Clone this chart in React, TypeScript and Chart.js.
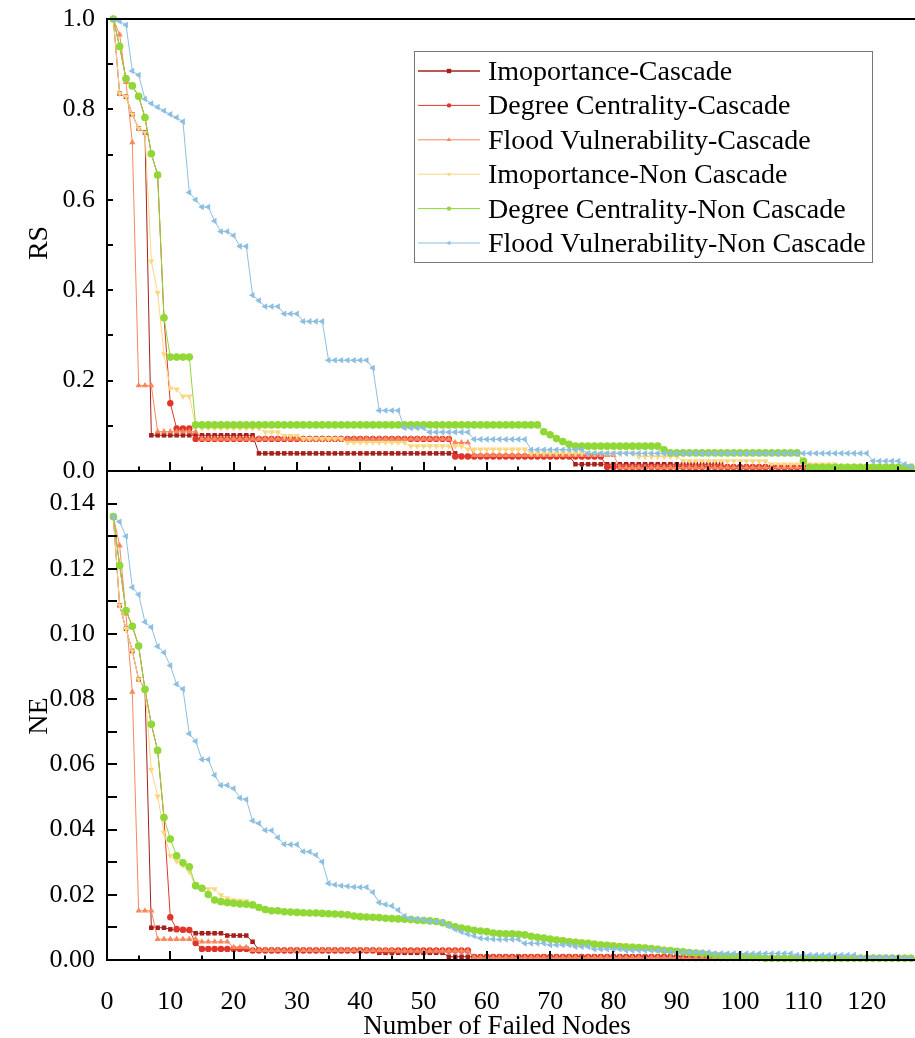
import React, { useEffect, useRef } from 'react';
import { Chart, registerables } from 'chart.js';

Chart.register(...registerables);

const FONT = "'Liberation Serif', 'Times New Roman', serif";

// x values: number of failed nodes
const NODES: number[] = Array.from({ length: 127 }, (_, i) => i + 1);

const X_TICKS = [0, 10, 20, 30, 40, 50, 60, 70, 80, 90, 100, 110, 120];
const X_MINOR = [5, 15, 25, 35, 45, 55, 65, 75, 85, 95, 105, 115, 125];
const RS_TICKS = [0, 0.2, 0.4, 0.6, 0.8, 1.0];
const RS_MINOR = [0.1, 0.3, 0.5, 0.7, 0.9];
const NE_TICKS = [0, 0.02, 0.04, 0.06, 0.08, 0.1, 0.12, 0.14];
const NE_MINOR = [0.01, 0.03, 0.05, 0.07, 0.09, 0.11, 0.13];

const SERIES_NAMES = [
  'Imoportance-Cascade',
  'Degree Centrality-Cascade',
  'Flood Vulnerability-Cascade',
  'Imoportance-Non Cascade',
  'Degree Centrality-Non Cascade',
  'Flood Vulnerability-Non Cascade',
];

// ---------------- RS (top panel) ----------------
const impC_RS = [
  1.0, 0.835, 0.828, 0.789, 0.758, 0.749,
  0.079, 0.079, 0.079, 0.079, 0.079, 0.079, 0.079, 0.079, 0.079, 0.079, 0.079, 0.079, 0.079, 0.079, 0.079, 0.079, 0.079,
  0.039, 0.039, 0.039, 0.039, 0.039, 0.039, 0.039, 0.039, 0.039, 0.039, 0.039, 0.039, 0.039, 0.039, 0.039, 0.039,
  0.039, 0.039, 0.039, 0.039, 0.039, 0.039, 0.039, 0.039, 0.039, 0.039, 0.039, 0.039, 0.039, 0.039, 0.039, 0.039,
  0.033, 0.033, 0.033, 0.033, 0.033, 0.033, 0.033, 0.033, 0.033, 0.033, 0.033, 0.033, 0.033, 0.033, 0.033, 0.033, 0.033, 0.033,
  0.015, 0.015, 0.015, 0.015, 0.015, 0.015, 0.015, 0.015, 0.015, 0.015, 0.015, 0.015,
  0.015, 0.015, 0.015, 0.015, 0.015, 0.015, 0.015, 0.015, 0.015, 0.015, 0.015, 0.015,
  0.006, 0.006, 0.006, 0.006, 0.006, 0.006, 0.006, 0.006, 0.006, 0.006, 0.006, 0.006, 0.006, 0.006, 0.006,
  0.006, 0.006, 0.006, 0.006, 0.006, 0.006, 0.006, 0.006, 0.006, 0.006, 0.006, 0.006, 0.006, 0.006, 0.004,
];

const degC_RS = [
  1.0, 0.939, 0.868, 0.852, 0.829, 0.782, 0.702, 0.655, 0.339, 0.15,
  0.094, 0.094, 0.094,
  0.071, 0.071, 0.071, 0.071, 0.071, 0.071, 0.071, 0.071, 0.071, 0.071, 0.071, 0.071, 0.071, 0.071,
  0.071, 0.071, 0.071, 0.071, 0.071, 0.071, 0.071, 0.071, 0.071, 0.071, 0.071, 0.071, 0.071, 0.071,
  0.071, 0.071, 0.071, 0.071, 0.071, 0.071, 0.071, 0.071, 0.071, 0.071, 0.071, 0.071, 0.071,
  0.032, 0.032, 0.032, 0.032, 0.032, 0.032, 0.032, 0.032, 0.032, 0.032, 0.032, 0.032,
  0.032, 0.032, 0.032, 0.032, 0.032, 0.032, 0.032, 0.032, 0.032, 0.032, 0.032, 0.032,
  0.009, 0.009, 0.009, 0.009, 0.009, 0.009, 0.009, 0.009, 0.009, 0.009, 0.009, 0.009, 0.009, 0.009, 0.009, 0.009,
  0.009, 0.009, 0.009, 0.009, 0.009, 0.009, 0.009, 0.009, 0.009, 0.009, 0.009, 0.009, 0.009, 0.009, 0.009, 0.009,
  0.009, 0.009, 0.009, 0.009, 0.009, 0.009, 0.009, 0.009, 0.009, 0.009, 0.009, 0.009, 0.009, 0.009, 0.009, 0.009, 0.006,
];

const floodC_RS = [
  1.0, 0.965, 0.86, 0.727,
  0.189, 0.189, 0.189,
  0.087, 0.087, 0.087, 0.087, 0.087, 0.087, 0.087,
  0.071, 0.071, 0.071, 0.071, 0.071, 0.071, 0.071, 0.071, 0.071, 0.071, 0.071, 0.071, 0.071, 0.071,
  0.071, 0.071, 0.071, 0.071, 0.071, 0.071, 0.071, 0.071, 0.071, 0.071, 0.071, 0.071, 0.071, 0.071,
  0.071, 0.071, 0.071, 0.071, 0.071, 0.071, 0.071, 0.071, 0.071, 0.071, 0.071, 0.071,
  0.063, 0.063, 0.063,
  0.035, 0.035, 0.035, 0.035, 0.035, 0.035, 0.035, 0.035, 0.035, 0.035, 0.035, 0.035,
  0.035, 0.035, 0.035, 0.035, 0.035, 0.035, 0.035, 0.035, 0.035, 0.035, 0.035,
  0.008, 0.008, 0.008, 0.008, 0.008, 0.008, 0.008, 0.008, 0.008, 0.008, 0.008, 0.008, 0.008, 0.008, 0.008, 0.008,
  0.008, 0.008, 0.008, 0.008, 0.008, 0.008, 0.008, 0.008, 0.008, 0.008, 0.008, 0.008, 0.008, 0.008, 0.008, 0.008,
  0.008, 0.008, 0.008, 0.008, 0.008, 0.008, 0.008, 0.008, 0.008, 0.008, 0.008, 0.008, 0.008, 0.008, 0.006,
];

const impNC_RS = [
  1.0, 0.835, 0.828, 0.789, 0.758, 0.749, 0.464, 0.394, 0.259, 0.183, 0.181, 0.165, 0.165,
  0.101,
  0.095, 0.095, 0.095, 0.095, 0.095, 0.095, 0.095, 0.095, 0.095, 0.095,
  0.086, 0.086, 0.086,
  0.078, 0.078, 0.078,
  0.071, 0.071, 0.071, 0.071, 0.071, 0.071, 0.071,
  0.063, 0.063, 0.063, 0.063, 0.063, 0.063, 0.063, 0.063, 0.063, 0.063,
  0.055, 0.055, 0.055, 0.055, 0.055, 0.055, 0.055, 0.055, 0.055,
  0.048, 0.048, 0.048, 0.048, 0.048, 0.048, 0.048, 0.048, 0.048, 0.048,
  0.039, 0.039, 0.039, 0.039, 0.039, 0.039, 0.039, 0.039, 0.039, 0.039, 0.039, 0.039, 0.039, 0.039, 0.039, 0.039, 0.039,
  0.032, 0.032, 0.032, 0.032, 0.032, 0.032, 0.032,
  0.022, 0.022, 0.022, 0.022, 0.022, 0.022, 0.022, 0.022, 0.022, 0.022, 0.022, 0.022, 0.022, 0.022,
  0.015, 0.015, 0.015, 0.015, 0.015, 0.015, 0.015, 0.015, 0.015, 0.015, 0.015,
  0.006, 0.006, 0.006, 0.006, 0.006, 0.006, 0.006, 0.006, 0.006, 0.006, 0.006, 0.006,
];

const degNC_RS = [
  1.0, 0.939, 0.868, 0.852, 0.829, 0.782, 0.702, 0.655, 0.339,
  0.252, 0.252, 0.252, 0.252,
  0.102, 0.102, 0.102, 0.102, 0.102, 0.102, 0.102, 0.102, 0.102, 0.102, 0.102,
  0.102, 0.102, 0.102, 0.102, 0.102, 0.102, 0.102, 0.102, 0.102, 0.102, 0.102,
  0.102, 0.102, 0.102, 0.102, 0.102, 0.102, 0.102, 0.102, 0.102, 0.102, 0.102,
  0.102, 0.102, 0.102, 0.102, 0.102, 0.102, 0.102, 0.102, 0.102, 0.102, 0.102,
  0.102, 0.102, 0.102, 0.102, 0.102, 0.102, 0.102, 0.102, 0.102, 0.102, 0.102,
  0.087, 0.08, 0.072, 0.065, 0.059,
  0.055, 0.055, 0.055, 0.055, 0.055, 0.055, 0.055, 0.055, 0.055, 0.055, 0.055, 0.055, 0.055, 0.055,
  0.047,
  0.04, 0.04, 0.04, 0.04, 0.04, 0.04, 0.04, 0.04, 0.04, 0.04, 0.04,
  0.04, 0.04, 0.04, 0.04, 0.04, 0.04, 0.04, 0.04, 0.04, 0.04,
  0.022,
  0.008, 0.008, 0.008, 0.008, 0.008, 0.008, 0.008, 0.008, 0.008, 0.008, 0.008, 0.008, 0.008, 0.008, 0.008, 0.008, 0.008,
];

const floodNC_RS = [
  1.0, 0.995, 0.987, 0.885, 0.876, 0.823, 0.813, 0.805, 0.797, 0.789, 0.782, 0.773,
  0.616, 0.6, 0.584, 0.584, 0.553, 0.53, 0.53, 0.521, 0.497, 0.497, 0.389, 0.377,
  0.364, 0.364, 0.364,
  0.348, 0.348, 0.348,
  0.331, 0.331, 0.331, 0.331,
  0.245, 0.245, 0.245, 0.245, 0.245, 0.245, 0.245,
  0.228,
  0.134, 0.134, 0.134, 0.134,
  0.095, 0.095, 0.095, 0.095,
  0.086, 0.086, 0.086, 0.086, 0.086, 0.086, 0.086,
  0.07, 0.07, 0.07, 0.07, 0.07, 0.07, 0.07, 0.07, 0.07,
  0.047, 0.047, 0.047, 0.047, 0.047, 0.047, 0.047, 0.047, 0.047,
  0.039, 0.039, 0.039, 0.039, 0.039, 0.039, 0.039, 0.039, 0.039, 0.039, 0.039, 0.039, 0.039, 0.039, 0.039,
  0.039, 0.039, 0.039, 0.039, 0.039, 0.039, 0.039, 0.039, 0.039, 0.039, 0.039, 0.039, 0.039, 0.039, 0.039,
  0.039, 0.039, 0.039, 0.039, 0.039, 0.039, 0.039, 0.039, 0.039, 0.039, 0.039, 0.039, 0.039, 0.039, 0.039,
  0.022, 0.022, 0.022, 0.022, 0.022,
  0.015, 0.01,
];

// ---------------- NE (bottom panel) ----------------
const impC_NE = [
  0.136, 0.1088, 0.1016, 0.0948, 0.0861, 0.0832,
  0.0099, 0.0099, 0.0099, 0.0094,
  0.0092, 0.0092, 0.0091,
  0.0082, 0.0082, 0.0082, 0.0082, 0.0082,
  0.0075, 0.0075, 0.0075, 0.0075,
  0.0056,
  0.0031, 0.0031, 0.0031, 0.0031, 0.0031, 0.0031, 0.0031, 0.0031, 0.0031, 0.0031,
  0.0031, 0.0031, 0.0031, 0.0031, 0.0031, 0.0031, 0.0031, 0.0031, 0.0031,
  0.0022, 0.0022, 0.0022, 0.0022, 0.0022, 0.0022, 0.0022, 0.0022, 0.0022, 0.0022, 0.0022,
  0.001, 0.001, 0.001, 0.001, 0.001, 0.001, 0.001, 0.001, 0.001, 0.001, 0.001, 0.001, 0.001, 0.001, 0.001, 0.001,
  0.001, 0.001, 0.001, 0.001, 0.001, 0.001, 0.001, 0.001, 0.001, 0.001, 0.001, 0.001, 0.001, 0.001, 0.001,
  0.001, 0.001, 0.001, 0.001, 0.001, 0.001, 0.001, 0.001, 0.001, 0.001, 0.001, 0.001, 0.001, 0.001, 0.001,
  0.0005, 0.0005, 0.0005, 0.0005, 0.0005, 0.0005, 0.0005, 0.0005, 0.0005, 0.0005, 0.0005, 0.0005, 0.0005, 0.0005,
  0.0005, 0.0005, 0.0005, 0.0005, 0.0005, 0.0005, 0.0005, 0.0005, 0.0005, 0.0005, 0.0005, 0.0005, 0.0005, 0.0005,
];

const degC_NE = [
  0.136, 0.121, 0.1072, 0.1024, 0.0963, 0.083, 0.0723, 0.0643, 0.0437, 0.0131,
  0.0095, 0.0093, 0.0092, 0.0052,
  0.0034, 0.0034, 0.0034, 0.0034, 0.0034, 0.0034, 0.0034, 0.0034,
  0.0029, 0.0029, 0.0029, 0.0029, 0.0029, 0.0029, 0.0029, 0.0029, 0.0029, 0.0029, 0.0029, 0.0029,
  0.0029, 0.0029, 0.0029, 0.0029, 0.0029, 0.0029, 0.0029, 0.0029, 0.0029, 0.0029, 0.0029, 0.0029,
  0.0029, 0.0029, 0.0029, 0.0029, 0.0029, 0.0029, 0.0029, 0.0029, 0.0029, 0.0029, 0.0029,
  0.0009, 0.0009, 0.0009, 0.0009, 0.0009, 0.0009, 0.0009, 0.0009, 0.0009, 0.0009, 0.0009,
  0.0009, 0.0009, 0.0009, 0.0009, 0.0009, 0.0009, 0.0009, 0.0009, 0.0009, 0.0009, 0.0009,
  0.0009, 0.0009, 0.0009, 0.0009, 0.0009, 0.0009, 0.0009, 0.0009, 0.0009, 0.0009, 0.0009,
  0.0006, 0.0006, 0.0006, 0.0006, 0.0006, 0.0006, 0.0006, 0.0006, 0.0006, 0.0006, 0.0006, 0.0006, 0.0006,
  0.0006, 0.0006, 0.0006, 0.0006, 0.0006, 0.0006, 0.0006, 0.0006, 0.0006, 0.0006, 0.0006, 0.0006,
  0.0006, 0.0006, 0.0006, 0.0006, 0.0006, 0.0006, 0.0006, 0.0006, 0.0006, 0.0006, 0.0006, 0.0006,
];

const floodC_NE = [
  0.136, 0.1271, 0.1062, 0.0822,
  0.0151, 0.0151, 0.0151,
  0.0064, 0.0064, 0.0064, 0.0064, 0.0064, 0.0064, 0.0064,
  0.0056, 0.0056, 0.0056, 0.0056, 0.0056,
  0.0039, 0.0039, 0.0039,
  0.003, 0.003, 0.003, 0.003, 0.003, 0.003, 0.003, 0.003, 0.003, 0.003, 0.003, 0.003,
  0.003, 0.003, 0.003, 0.003, 0.003, 0.003, 0.003, 0.003, 0.003, 0.003, 0.003,
  0.0028, 0.0028, 0.0028, 0.0028, 0.0028, 0.0028, 0.0028, 0.0028, 0.0028, 0.0028, 0.0028, 0.0028,
  0.0008, 0.0008, 0.0008, 0.0008, 0.0008, 0.0008, 0.0008, 0.0008, 0.0008, 0.0008, 0.0008,
  0.0008, 0.0008, 0.0008, 0.0008, 0.0008, 0.0008, 0.0008, 0.0008, 0.0008, 0.0008, 0.0008,
  0.0008, 0.0008, 0.0008, 0.0008, 0.0008, 0.0008, 0.0008, 0.0008, 0.0008, 0.0008, 0.0008,
  0.0005, 0.0005, 0.0005, 0.0005, 0.0005, 0.0005, 0.0005, 0.0005, 0.0005, 0.0005, 0.0005, 0.0005, 0.0005,
  0.0005, 0.0005, 0.0005, 0.0005, 0.0005, 0.0005, 0.0005, 0.0005, 0.0005, 0.0005, 0.0005, 0.0005,
  0.0005, 0.0005, 0.0005, 0.0005, 0.0005, 0.0005, 0.0005, 0.0005, 0.0005, 0.0005, 0.0005, 0.0005,
];

const impNC_NE = [
  0.136, 0.1088, 0.1016, 0.0948, 0.0861, 0.0832, 0.0584, 0.0502, 0.0391, 0.032,
  0.0303, 0.0291, 0.0271, 0.0225, 0.0222, 0.0218, 0.0218, 0.0199, 0.0189, 0.0184,
  0.0182, 0.0181, 0.0172, 0.0164, 0.0158, 0.0154, 0.0153, 0.015, 0.0149, 0.0147,
  0.0146, 0.0145, 0.0144, 0.0143, 0.0141, 0.014, 0.0139, 0.0137, 0.0134, 0.0132,
  0.0131, 0.013, 0.0129, 0.0127, 0.0126, 0.0125, 0.0124, 0.0123, 0.0121, 0.012,
  0.0119, 0.0117, 0.0113, 0.0108, 0.0103, 0.0099, 0.0096, 0.0093, 0.0091, 0.0089,
  0.0086, 0.0084, 0.0083, 0.0082, 0.0081, 0.0079, 0.0076, 0.0073, 0.007, 0.0068,
  0.0066, 0.0064, 0.0062, 0.006, 0.0058, 0.0056, 0.0054, 0.0052, 0.005, 0.0049,
  0.0047, 0.0046, 0.0044, 0.0043, 0.0041, 0.0039, 0.0037, 0.0035, 0.0033, 0.0031,
  0.0029, 0.0027, 0.0025, 0.0023, 0.0021, 0.0019, 0.0017, 0.0015, 0.0013, 0.0012,
  0.0011, 0.001, 0.0009, 0.0008,
  0.0006, 0.0006, 0.0006, 0.0006, 0.0006, 0.0006, 0.0006, 0.0006, 0.0006, 0.0006, 0.0006, 0.0006,
  0.0006, 0.0006, 0.0006, 0.0006, 0.0006, 0.0006, 0.0006, 0.0006, 0.0006, 0.0006, 0.0006,
];

const degNC_NE = [
  0.136, 0.121, 0.1072, 0.1024, 0.0963, 0.083, 0.0723, 0.0643, 0.0437, 0.0371,
  0.032, 0.0298, 0.0286, 0.0228, 0.022, 0.0201, 0.0184, 0.0179, 0.0176, 0.0174,
  0.0172, 0.0171, 0.0169, 0.0161, 0.0155, 0.0151, 0.0151, 0.0148, 0.0147, 0.0146,
  0.0145, 0.0144, 0.0144, 0.0143, 0.0142, 0.0141, 0.014, 0.0139, 0.0135, 0.0133,
  0.0132, 0.0131, 0.013, 0.0128, 0.0127, 0.0126, 0.0125, 0.0124, 0.0122, 0.0121,
  0.012, 0.0118, 0.0114, 0.0108, 0.0102, 0.0098, 0.0095, 0.0091, 0.0089, 0.0087,
  0.0083, 0.0081, 0.008, 0.008, 0.0079, 0.0077, 0.0073, 0.007, 0.0067, 0.0064,
  0.0061, 0.0059, 0.0056, 0.0054, 0.0052, 0.0051, 0.0048, 0.0046, 0.0045, 0.0043,
  0.0041, 0.004, 0.0039, 0.0038, 0.0037, 0.0035, 0.0033, 0.003, 0.0029, 0.0027,
  0.0025, 0.0023, 0.0021, 0.002, 0.0017, 0.0015, 0.0014, 0.0013, 0.0012, 0.0011,
  0.001, 0.0009, 0.0008,
  0.0005, 0.0005, 0.0005, 0.0005, 0.0005, 0.0005, 0.0005, 0.0005, 0.0005, 0.0005, 0.0005, 0.0005,
  0.0005, 0.0005, 0.0005, 0.0005, 0.0005, 0.0005, 0.0005, 0.0005, 0.0005, 0.0005, 0.0005, 0.0005,
];

const floodNC_NE = [
  0.136, 0.1344, 0.13, 0.1143, 0.1121, 0.1037, 0.1021, 0.0962, 0.0943, 0.0903,
  0.0846, 0.0831, 0.0694, 0.0671, 0.0615, 0.0615, 0.0567, 0.0536, 0.0536, 0.0526,
  0.0497, 0.0492, 0.0427, 0.0419, 0.0398, 0.0397, 0.0376, 0.0355, 0.0354, 0.0354,
  0.0333, 0.0332, 0.0322, 0.0301, 0.0235, 0.0231, 0.0228, 0.0226, 0.0224, 0.0223,
  0.0223, 0.0208, 0.0176, 0.017, 0.0166, 0.0153, 0.0135, 0.0127, 0.0126, 0.0124,
  0.0119, 0.0118, 0.0117, 0.0104, 0.0094, 0.0086, 0.0079, 0.0074, 0.0067, 0.0065,
  0.0064,
  0.0063, 0.0063, 0.0063, 0.0063,
  0.0051, 0.0051, 0.0051, 0.0051,
  0.0046, 0.0046, 0.0046, 0.0046,
  0.0041, 0.0041, 0.0041,
  0.0033, 0.0033, 0.0033, 0.0033, 0.0033,
  0.0029, 0.0029, 0.0029, 0.0029, 0.0029, 0.0029, 0.0029,
  0.0024, 0.0024, 0.0024, 0.0024, 0.0024, 0.0024, 0.0024,
  0.002, 0.002, 0.002, 0.002, 0.002, 0.002, 0.002, 0.002, 0.002, 0.002, 0.002, 0.002, 0.002,
  0.0015, 0.0015, 0.0015, 0.0015, 0.0015, 0.0015, 0.0015, 0.0015, 0.0015, 0.0015,
  0.0008, 0.0008, 0.0008, 0.0008, 0.0008, 0.0008, 0.0008,
  0.0005, 0.0005,
];

const COLORS = ['#A3201C', '#E0352B', '#F7885C', '#FDD680', '#8FD836', '#8DBFE1'];
const POINT_STYLES = ['rect', 'circle', 'triangle', 'triangle', 'circle', 'triangle'];
const POINT_ROT = [0, 0, 0, 180, 0, 270];
const POINT_RADIUS = [3.2, 3.2, 3.6, 3.6, 3.8, 3.8];

const RS_DATA = [impC_RS, degC_RS, floodC_RS, impNC_RS, degNC_RS, floodNC_RS];
const NE_DATA = [impC_NE, degC_NE, floodC_NE, impNC_NE, degNC_NE, floodNC_NE];

function drawMarker(ctx: CanvasRenderingContext2D, i: number, x: number, y: number, r: number) {
  ctx.fillStyle = COLORS[i];
  ctx.beginPath();
  const style = POINT_STYLES[i];
  if (style === 'rect') {
    ctx.rect(x - r, y - r, 2 * r, 2 * r);
  } else if (style === 'circle') {
    ctx.arc(x, y, r, 0, Math.PI * 2);
  } else {
    const rot = (POINT_ROT[i] * Math.PI) / 180;
    for (let k = 0; k < 3; k++) {
      const a = rot - Math.PI / 2 + (k * 2 * Math.PI) / 3;
      const px = x + r * 1.2 * Math.cos(a);
      const py = y + r * 1.2 * Math.sin(a);
      if (k === 0) ctx.moveTo(px, py);
      else ctx.lineTo(px, py);
    }
    ctx.closePath();
  }
  ctx.fill();
}

const framePlugin = {
  id: 'frame',
  afterDatasetsDraw(chart: any, _args: any, opts: any) {
    const { ctx, chartArea: a } = chart;
    const x = chart.scales.x;
    const y = chart.scales.y;
    ctx.save();
    ctx.strokeStyle = '#000';
    ctx.lineWidth = 2;
    ctx.beginPath();
    if (opts.top) {
      ctx.moveTo(a.left - 1, a.top);
      ctx.lineTo(chart.width, a.top);
    }
    ctx.moveTo(a.left, a.top);
    ctx.lineTo(a.left, a.bottom + 1);
    ctx.moveTo(a.left - 1, a.bottom);
    ctx.lineTo(chart.width, a.bottom);
    for (const v of X_TICKS) {
      const px = Math.round(x.getPixelForValue(v));
      ctx.moveTo(px, a.bottom);
      ctx.lineTo(px, a.bottom - 9);
    }
    for (const v of X_MINOR) {
      const px = Math.round(x.getPixelForValue(v));
      ctx.moveTo(px, a.bottom);
      ctx.lineTo(px, a.bottom - 4.5);
    }
    for (const v of opts.yMajor) {
      const py = Math.round(y.getPixelForValue(v));
      ctx.moveTo(a.left, py);
      ctx.lineTo(a.left + opts.yLen, py);
    }
    for (const v of opts.yMinor) {
      const py = Math.round(y.getPixelForValue(v));
      ctx.moveTo(a.left, py);
      ctx.lineTo(a.left + opts.yLen, py);
    }
    ctx.stroke();

    // axis titles
    ctx.fillStyle = '#000';
    ctx.font = `28px ${FONT}`;
    ctx.textAlign = 'center';
    ctx.textBaseline = 'middle';
    ctx.save();
    ctx.translate(opts.titleX, opts.titleY);
    ctx.rotate(-Math.PI / 2);
    ctx.fillText(opts.title, 0, 0);
    ctx.restore();
    if (opts.xTitle) {
      ctx.font = `27px ${FONT}`;
      ctx.fillText(opts.xTitle, opts.xTitleX, opts.xTitleY);
    }

    // legend
    if (opts.legend) {
      const L = { left: 414, top: 51.5, right: 872, bottom: 262.5 };
      ctx.fillStyle = '#fff';
      ctx.fillRect(L.left, L.top, L.right - L.left, L.bottom - L.top);
      ctx.strokeStyle = '#777';
      ctx.lineWidth = 1;
      ctx.strokeRect(L.left + 0.5, L.top, L.right - L.left, L.bottom - L.top);
      ctx.font = `28px ${FONT}`;
      ctx.textAlign = 'left';
      ctx.textBaseline = 'alphabetic';
      SERIES_NAMES.forEach((name, i) => {
        const cy = 71 + i * 34.4;
        ctx.strokeStyle = COLORS[i];
        ctx.lineWidth = i === 0 ? 1.6 : 1;
        ctx.beginPath();
        ctx.moveTo(418, cy);
        ctx.lineTo(480, cy);
        ctx.stroke();
        drawMarker(ctx, i, 449, cy, 2.2);
        ctx.fillStyle = '#000';
        ctx.fillText(name, 488, cy + 9);
      });
    }
    ctx.restore();
  },
};

function makeDatasets(data: number[][]) {
  return data.map((vals, i) => ({
    label: SERIES_NAMES[i],
    data: vals.map((v, k) => ({ x: NODES[k], y: v })),
    borderColor: COLORS[i],
    backgroundColor: COLORS[i],
    borderWidth: 1,
    pointStyle: POINT_STYLES[i],
    pointRotation: POINT_ROT[i],
    pointRadius: POINT_RADIUS[i],
    pointBorderWidth: 0,
    pointBackgroundColor: COLORS[i],
    tension: 0,
    clip: false as any,
    order: 5 - i,
  }));
}

function makeConfig(which: 'top' | 'bottom'): any {
  const isTop = which === 'top';
  const xTickFont = { family: FONT, size: 26 };
  const yTickFont = { family: FONT, size: 26, lineHeight: 0.5 };
  return {
    type: 'line',
    data: { datasets: makeDatasets(isTop ? RS_DATA : NE_DATA) },
    plugins: [framePlugin],
    options: {
      responsive: false,
      animation: false,
      events: [],
      layout: {
        padding: isTop
          ? { left: 0, right: 2, top: 19, bottom: 1038 - 471 }
          : { left: 0, right: 2, top: 471, bottom: 0 },
      },
      plugins: {
        legend: { display: false },
        tooltip: { enabled: false },
        frame: isTop
          ? {
              top: true,
              yMajor: RS_TICKS,
              yMinor: RS_MINOR,
              yLen: 6,
              title: 'RS',
              titleX: 40,
              titleY: 243,
              legend: true,
            }
          : {
              top: false,
              yMajor: NE_TICKS,
              yMinor: NE_MINOR,
              yLen: 10,
              title: 'NE',
              titleX: 40,
              titleY: 716,
              xTitle: 'Number of Failed Nodes',
              xTitleX: 497,
              xTitleY: 1027,
            },
      },
      scales: {
        x: {
          type: 'linear',
          min: 0,
          max: 127,
          display: !isTop,
          grid: { display: false, drawTicks: false },
          border: { display: false },
          afterBuildTicks: (s: any) => {
            s.ticks = X_TICKS.map((v) => ({ value: v }));
          },
          afterFit: (s: any) => {
            s.height = isTop ? 0 : 78;
          },
          ticks: {
            font: xTickFont,
            color: '#000',
            padding: 27,
            maxRotation: 0,
            autoSkip: false,
            callback: (v: number) => String(v),
          },
        },
        y: {
          type: 'linear',
          min: 0,
          max: isTop ? 1.0 : 0.15,
          grid: { display: false, drawTicks: false },
          border: { display: false },
          afterBuildTicks: (s: any) => {
            s.ticks = (isTop ? RS_TICKS : NE_TICKS).map((v) => ({ value: v }));
          },
          afterFit: (s: any) => {
            s.width = 107;
          },
          ticks: {
            font: yTickFont,
            color: '#000',
            padding: 12,
            callback: (v: number) => (isTop ? v.toFixed(1) : v.toFixed(2)),
          },
        },
      },
    },
  };
}

export default function App() {
  const topRef = useRef<HTMLCanvasElement>(null);
  const botRef = useRef<HTMLCanvasElement>(null);
  useEffect(() => {
    const c1 = new Chart(topRef.current as HTMLCanvasElement, makeConfig('top'));
    const c2 = new Chart(botRef.current as HTMLCanvasElement, makeConfig('bottom'));
    return () => {
      c1.destroy();
      c2.destroy();
    };
  }, []);
  return (
    <div
      style={{
        position: 'fixed',
        left: 0,
        top: 0,
        width: 915,
        height: 1038,
        background: '#fff',
        overflow: 'hidden',
      }}
    >
      <canvas ref={topRef} width={915} height={1038} style={{ position: 'absolute', left: 0, top: 0 }} />
      <canvas ref={botRef} width={915} height={1038} style={{ position: 'absolute', left: 0, top: 0 }} />
    </div>
  );
}
